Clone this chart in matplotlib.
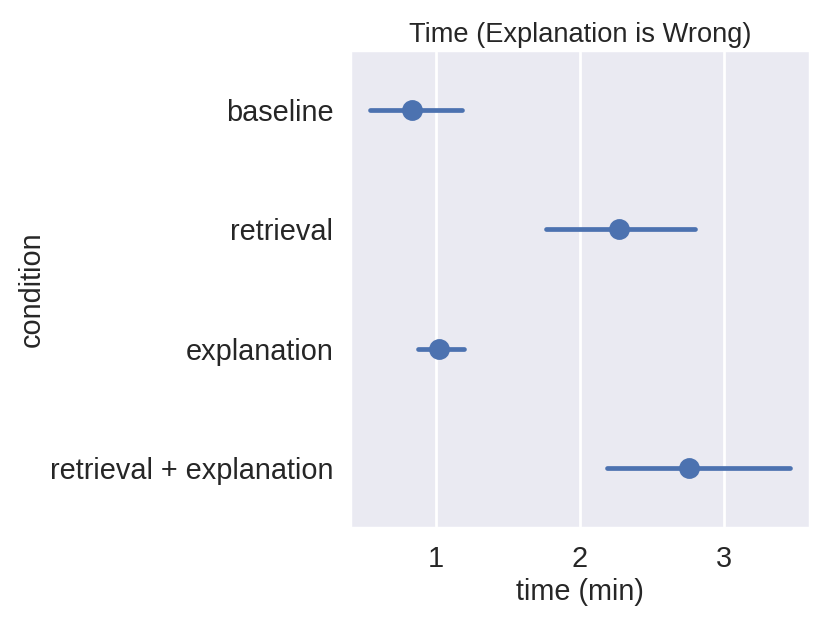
import matplotlib
matplotlib.use("Agg")
import matplotlib.pyplot as plt
import seaborn as sns
import numpy as np

# condiciones y valores (minutos)
conditions = ["baseline", "retrieval", "explanation", "retrieval + explanation"]
mean_time = [0.83, 2.27, 1.02, 2.76]
ci_low = [0.54, 1.76, 0.87, 2.19]
ci_high = [1.18, 2.80, 1.19, 3.46]

sns.set_theme(style="darkgrid")
plt.rcParams['font.family'] = ['Liberation Sans', 'DejaVu Sans']

fig = plt.figure(figsize=(4.15, 3.115), dpi=200)
ax = fig.add_axes([350 / 830, 1 - 528 / 623, 460 / 830, 478 / 623])

y = np.arange(len(conditions))
color = "#4c72b0"

# barras de error (intervalo) y punto medio
for i in range(len(conditions)):
    ax.plot([ci_low[i], ci_high[i]], [y[i], y[i]], color=color, lw=1.7,
            solid_capstyle='round', zorder=2)
ax.plot(mean_time, y, 'o', color=color, markersize=6.5, zorder=3)

ax.set_yticks(y)
ax.set_yticklabels(conditions)
ax.set_ylim(3.5, -0.5)
ax.set_xlim(0.40, 3.60)
ax.set_xticks([1, 2, 3])
ax.grid(False, axis='y')
ax.tick_params(axis='both', labelsize=10.4, length=0, pad=6)

ax.set_title('Time (Explanation is Wrong)', fontsize=9.8, pad=3)
ax.set_xlabel('time (min)', fontsize=10.4, labelpad=2)
ax.set_ylabel('condition', fontsize=10.4, labelpad=1.5)

fig.savefig('out.png', dpi=200)
